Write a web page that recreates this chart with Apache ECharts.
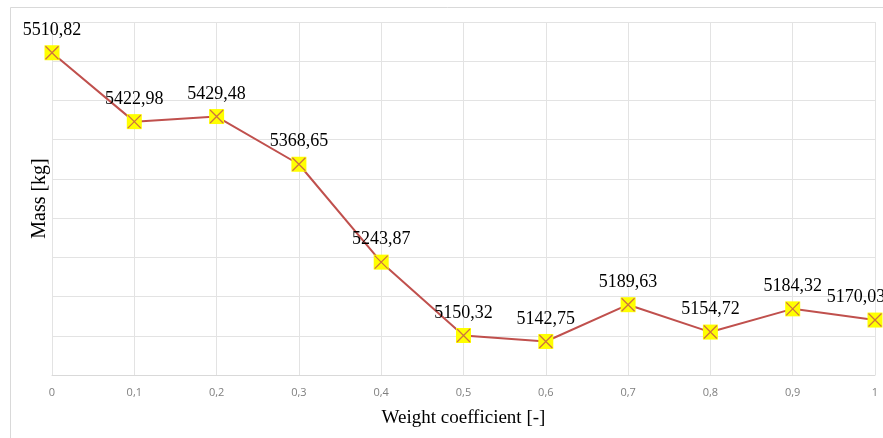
<!DOCTYPE html>
<html>
<head>
<meta charset="utf-8">
<script src="https://cdn.jsdelivr.net/npm/echarts@6/dist/echarts.min.js"></script>
<style>
html,body{margin:0;padding:0;background:#fff;}
#c{width:883px;height:438px;}
</style>
</head>
<body>
<div id="c"></div>
<script>
const categories = ['0','0,1','0,2','0,3','0,4','0,5','0,6','0,7','0,8','0,9','1'];
const massValues = [5510.82, 5422.98, 5429.48, 5368.65, 5243.87, 5150.32, 5142.75, 5189.63, 5154.72, 5184.32, 5170.03];
const yMin = 5100, yMax = 5550, yStep = 50;
const xName = 'Weight coefficient [-]';
const yName = 'Mass [kg]';

const fmt = v => v.toFixed(2).replace('.', ',');
const chart = echarts.init(document.getElementById('c'), null, {renderer: 'canvas'});
const serif = '"Liberation Serif", "DejaVu Serif", serif';
const lineData = massValues.map((v, i) => i === massValues.length - 1
  ? {value: v, label: {offset: [-19, 0]}}
  : v);
chart.setOption({
  animation: false,
  backgroundColor: '#fff',
  graphic: [{
    type: 'rect', z: -10,
    shape: {x: 10.5, y: 7.5, width: 900, height: 460},
    style: {fill: 'none', stroke: '#d9d9d9', lineWidth: 1}
  }],
  grid: {left: 52, right: 8, top: 22, bottom: 63, containLabel: false},
  xAxis: {
    type: 'category', data: categories, boundaryGap: false,
    name: xName, nameLocation: 'middle', nameGap: 34,
    nameTextStyle: {fontFamily: serif, fontSize: 19, color: '#000'},
    axisLine: {lineStyle: {color: '#d9d9d9', width: 1}},
    axisTick: {show: false},
    axisLabel: {color: '#7f7f7f', fontSize: 11, fontFamily: '"Open Sans", "Liberation Sans", sans-serif', margin: 12},
    splitLine: {show: true, lineStyle: {color: '#e3e3e3', width: 1}}
  },
  yAxis: {
    type: 'value', min: yMin, max: yMax, interval: yStep,
    name: yName, nameLocation: 'middle', nameGap: 2, nameRotate: 90,
    nameTextStyle: {fontFamily: serif, fontSize: 20, color: '#000'},
    axisLine: {show: false}, axisTick: {show: false},
    axisLabel: {show: false},
    splitLine: {show: true, lineStyle: {color: '#e3e3e3', width: 1}}
  },
  series: [{
    type: 'line', data: lineData,
    lineStyle: {color: '#c0504d', width: 2},
    symbol: 'rect', symbolSize: 15,
    itemStyle: {color: '#ffff00', borderColor: '#ffff00', borderWidth: 0},
    label: {
      show: true, position: 'top', distance: 6,
      formatter: p => fmt(p.value),
      fontFamily: serif, fontSize: 18, color: '#000'
    },
    z: 2
  }, {
    type: 'scatter', data: massValues,
    symbol: 'path://M0,0L10,10M10,0L0,10', symbolSize: 13,
    itemStyle: {color: 'none', borderColor: '#c0504d', borderWidth: 1.3},
    silent: true, z: 3
  }]
});
</script>
</body>
</html>
